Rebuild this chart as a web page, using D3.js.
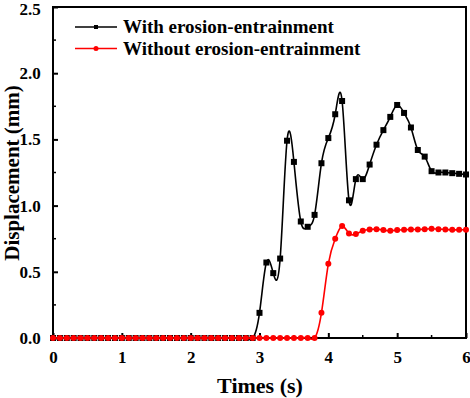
<!DOCTYPE html>
<html>
<head>
<meta charset="utf-8">
<script src="https://cdn.jsdelivr.net/npm/d3@7"></script>
<style>
  body { margin: 0; background: #fff; }
  text { font-family: "Liberation Serif", "Times New Roman", serif; font-weight: bold; }
</style>
</head>
<body>
<svg id="chart" width="470" height="398"></svg>
<script>
// time axis, one sample every 0.1 s from 0 to 6 s
const times = d3.range(61).map(i => +(i / 10).toFixed(1))

// displacement (mm) with erosion-entrainment, starts moving after 2.9 s
const withErosion = [
    0, 0, 0, 0, 0, 0, 0, 0, 0, 0,
    0, 0, 0, 0, 0, 0, 0, 0, 0, 0,
    0, 0, 0, 0, 0, 0, 0, 0, 0, 0,
    0.19, 0.57, 0.49, 0.60, 1.49, 1.33, 0.88, 0.84, 0.93, 1.32,
    1.51, 1.69, 1.79, 1.04, 1.20, 1.20, 1.31, 1.46, 1.57, 1.67,
    1.76, 1.70, 1.59, 1.42, 1.37, 1.26, 1.25, 1.25, 1.245, 1.24,
    1.235
]

// displacement (mm) without erosion-entrainment
const withoutErosion = [
    0, 0, 0, 0, 0, 0, 0, 0, 0, 0,
    0, 0, 0, 0, 0, 0, 0, 0, 0, 0,
    0, 0, 0, 0, 0, 0, 0, 0, 0, 0,
    0, 0, 0, 0, 0, 0, 0, 0, 0, 0.19,
    0.56, 0.75, 0.845, 0.79, 0.785, 0.81, 0.82, 0.822, 0.815, 0.81,
    0.815, 0.818, 0.82, 0.82, 0.822, 0.825, 0.822, 0.82, 0.817, 0.817,
    0.817
]

const xTicks = [0, 1, 2, 3, 4, 5, 6]
const yTicks = [0, 0.5, 1.0, 1.5, 2.0, 2.5]
const seriesNames = ['With erosion-entrainment', 'Without erosion-entrainment']

const svg = d3.select('#chart')
const mLeft = 53, mRight = 466, mTop = 7, mBottom = 338

const x = d3.scaleLinear().domain([0, 6]).range([mLeft, mRight])
const y = d3.scaleLinear().domain([0, 2.5]).range([mBottom, mTop])

// plot frame
svg.append('rect')
    .attr('x', mLeft).attr('y', mTop)
    .attr('width', mRight - mLeft).attr('height', mBottom - mTop)
    .attr('fill', 'none').attr('stroke', '#000').attr('stroke-width', 2)

// x axis, ticks point inward
const xAxis = svg.append('g')
    .attr('transform', `translate(0,${mBottom})`)
    .call(d3.axisBottom(x).tickValues(xTicks).tickSize(-5).tickFormat(d3.format('d')))
xAxis.select('.domain').remove()
xAxis.selectAll('line').attr('stroke-width', 2)
xAxis.selectAll('text').attr('font-size', 17).attr('dy', '1.3em').attr('fill', '#000')
xAxis.selectAll('minor')
    .data(d3.range(0.5, 6, 1)).enter().append('line')
    .attr('x1', d => x(d)).attr('x2', d => x(d))
    .attr('y1', 0).attr('y2', -3)
    .attr('stroke', '#000').attr('stroke-width', 1.5)

const yAxis = svg.append('g')
    .attr('transform', `translate(${mLeft},0)`)
    .call(d3.axisLeft(y).tickValues(yTicks).tickSize(-5).tickFormat(d3.format('.1f')))
yAxis.select('.domain').remove()
yAxis.selectAll('line').attr('stroke-width', 2)
yAxis.selectAll('text').attr('font-size', 17).attr('dx', '-0.55em').attr('fill', '#000')
// keep the top label inside the page
yAxis.selectAll('.tick').filter(d => d == 2.5).select('text').attr('dy', '0.45em')
yAxis.selectAll('minor')
    .data(d3.range(0.25, 2.5, 0.5)).enter().append('line')
    .attr('y1', d => y(d)).attr('y2', d => y(d))
    .attr('x1', 0).attr('x2', 3)
    .attr('stroke', '#000').attr('stroke-width', 1.5)

// axis titles
svg.append('text')
    .attr('x', 260).attr('y', 393)
    .attr('text-anchor', 'middle').attr('font-size', 22)
    .text('Times (s)')

svg.append('text')
    .attr('transform', 'translate(19,173) rotate(-90)')
    .attr('text-anchor', 'middle').attr('font-size', 21)
    .text('Displacement (mm)')

const line = d3.line()
    .x((d, i) => x(times[i]))
    .y(d => y(d))
    .curve(d3.curveNatural)

// series without erosion is drawn on top
const series = [
    { values: withErosion, color: '#000', shape: 'square' },
    { values: withoutErosion, color: '#ff0000', shape: 'circle' }
]

series.forEach(s => {
    svg.append('path')
        .datum(s.values)
        .attr('fill', 'none')
        .attr('stroke', s.color)
        .attr('stroke-width', 1.6)
        .attr('d', line)

    const pts = svg.append('g').selectAll('pt').data(s.values).enter()
    if (s.shape == 'square') {
        pts.append('rect')
            .attr('x', (d, i) => x(times[i]) - 3)
            .attr('y', d => y(d) - 3)
            .attr('width', 6).attr('height', 6)
            .attr('fill', s.color)
    } else {
        pts.append('circle')
            .attr('cx', (d, i) => x(times[i]))
            .attr('cy', d => y(d))
            .attr('r', 3)
            .attr('fill', s.color)
    }
})

// legend
const legend = svg.append('g')
series.forEach((s, i) => {
    const ly = 27 + i * 21.5
    legend.append('line')
        .attr('x1', 75).attr('x2', 117)
        .attr('y1', ly).attr('y2', ly)
        .attr('stroke', s.color).attr('stroke-width', 1.6)
    if (s.shape == 'square') {
        legend.append('rect').attr('x', 94).attr('y', ly - 2).attr('width', 4).attr('height', 4).attr('fill', s.color)
    } else {
        legend.append('circle').attr('cx', 96).attr('cy', ly).attr('r', 2.5).attr('fill', s.color)
    }
    legend.append('text')
        .attr('x', 123).attr('y', ly + 6)
        .attr('font-size', 19)
        .text(seriesNames[i])
})
</script>
</body>
</html>
